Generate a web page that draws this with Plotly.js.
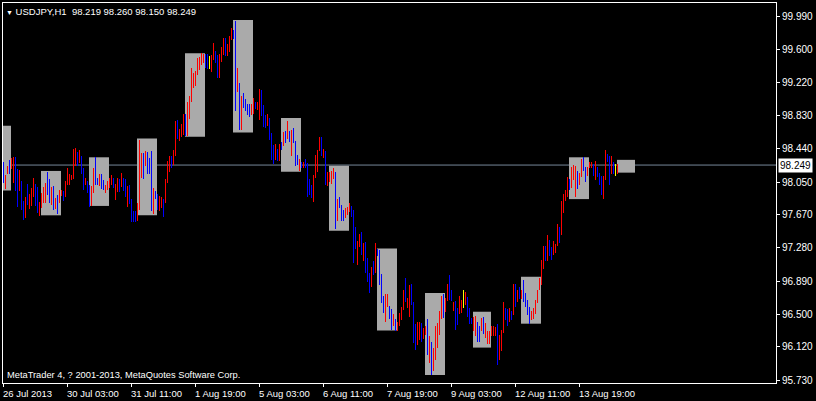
<!DOCTYPE html>
<html><head><meta charset="utf-8">
<script src="https://cdn.plot.ly/plotly-3.0.1.min.js"></script>
<style>html,body{margin:0;padding:0;background:#000;}#chart{width:816px;height:401px;}</style>
</head><body><div id="chart"></div>
<script>
// Hourly bars USDJPY H1 (index 0 = 26 Jul 2013 19:00)
const highs = [
98.28,98.13,98.24,98.31,98.33,98.34,98.34,98.20,98.19,98.06,
97.83,97.88,98.03,97.91,97.98,98.10,98.03,97.99,97.82,97.92,
97.99,98.04,98.17,98.09,97.99,98.00,97.86,97.90,97.96,97.96,
97.94,98.06,98.21,98.15,98.13,98.44,98.45,98.40,98.42,98.36,
98.22,98.10,98.06,98.02,98.00,98.21,98.34,98.10,98.15,98.14,
98.07,98.02,98.06,98.10,98.13,98.10,98.03,98.10,98.08,98.16,
98.10,98.09,98.00,98.02,97.85,97.71,97.71,97.81,98.54,98.39,
98.39,98.41,98.40,98.33,98.41,97.98,97.95,97.91,97.89,97.87,
97.85,98.08,98.30,98.35,98.35,98.42,98.77,98.78,98.67,98.73,
98.85,98.85,98.99,99.06,99.39,99.33,99.35,99.50,99.51,99.56,
99.55,99.55,99.55,99.53,99.54,99.68,99.58,99.54,99.55,99.63,
99.74,99.74,99.67,99.76,99.85,99.83,99.94,99.39,99.21,99.06,
99.09,99.02,98.97,98.96,98.97,99.03,98.99,98.99,99.14,99.13,
98.95,98.84,98.85,98.80,98.63,98.48,98.50,98.44,98.50,98.52,
98.64,98.65,98.77,98.65,98.66,98.68,98.53,98.37,98.32,98.29,
98.29,98.32,98.27,98.09,98.02,98.13,98.37,98.43,98.58,98.58,
98.44,98.41,98.17,98.17,98.18,98.22,98.17,97.85,97.87,97.78,
97.72,97.74,97.76,97.80,97.77,97.72,97.52,97.36,97.44,97.47,
97.34,97.35,97.16,96.98,97.06,97.13,97.33,97.27,97.25,96.97,
96.71,96.74,96.74,96.60,96.56,96.50,96.44,96.41,96.52,96.58,
96.79,96.92,96.69,96.84,96.86,96.64,96.39,96.41,96.41,96.40,
96.34,96.36,96.44,96.25,96.17,96.10,96.36,96.40,96.54,96.71,
96.74,96.69,96.86,96.96,96.78,96.65,96.66,96.57,96.71,96.67,
96.79,96.76,96.70,96.57,96.46,96.47,96.48,96.41,96.36,96.46,
96.47,96.40,96.30,96.30,96.36,96.36,96.35,96.39,96.26,96.32,
96.64,96.57,96.56,96.57,96.54,96.86,96.86,96.78,96.82,96.78,
96.90,96.75,96.67,96.58,96.54,96.57,96.67,96.79,96.93,97.14,
97.30,97.30,97.43,97.37,97.29,97.36,97.32,97.56,97.52,97.83,
97.91,97.96,98.11,98.08,98.23,98.25,98.24,98.18,98.16,98.32,
98.34,98.23,98.23,98.28,98.29,98.26,98.30,98.23,98.16,98.12,
98.12,98.42,98.38,98.36,98.36,98.28,98.26,98.26
];
const lows = [
98.04,97.97,98.14,98.15,98.20,98.04,97.95,97.76,97.95,97.72,
97.61,97.63,97.78,97.73,97.77,97.88,97.77,97.69,97.65,97.75,
97.81,97.81,97.90,97.80,97.78,97.72,97.73,97.67,97.81,97.89,
97.83,97.87,98.01,98.01,98.07,98.08,98.24,98.24,98.27,98.15,
97.96,98.02,97.92,97.76,97.77,97.92,98.01,98.01,98.00,97.97,
97.96,97.92,97.96,97.98,98.01,97.98,97.84,97.93,97.93,97.99,
97.94,97.88,97.76,97.79,97.58,97.58,97.58,97.59,97.72,98.10,
98.09,98.24,98.15,98.14,97.71,97.67,97.85,97.72,97.71,97.74,
97.64,97.80,98.04,98.17,98.22,98.25,98.36,98.56,98.53,98.58,
98.60,98.59,98.59,98.79,98.99,99.15,99.18,99.31,99.36,99.42,
99.45,99.39,99.38,99.38,99.34,99.48,99.44,99.27,99.27,99.46,
99.54,99.53,99.53,99.57,99.72,99.73,98.88,99.11,98.66,98.66,
98.92,98.88,98.84,98.81,98.83,98.85,98.91,98.90,98.78,98.82,
98.70,98.68,98.71,98.54,98.31,98.26,98.31,98.30,98.30,98.42,
98.47,98.51,98.56,98.52,98.35,98.51,98.24,98.25,98.18,98.22,
98.22,98.22,97.88,97.90,97.86,97.82,98.10,98.17,98.41,98.35,
98.33,98.01,98.00,98.05,98.03,98.08,97.50,97.59,97.74,97.59,
97.59,97.63,97.66,97.70,97.64,97.10,97.27,97.08,97.29,97.20,
97.13,96.98,96.88,96.75,96.82,96.96,96.98,97.18,96.84,96.63,
96.51,96.41,96.58,96.45,96.32,96.36,96.31,96.31,96.36,96.43,
96.55,96.65,96.57,96.47,96.61,96.16,96.08,96.14,96.20,96.18,
96.21,96.26,96.02,95.93,95.79,95.83,95.97,96.10,96.26,96.45,
96.46,96.53,96.66,96.67,96.66,96.54,96.32,96.37,96.50,96.51,
96.57,96.61,96.47,96.39,96.39,96.30,96.24,96.18,96.17,96.31,
96.27,96.22,96.15,96.15,96.24,96.24,96.24,95.91,95.96,96.07,
96.28,96.43,96.36,96.41,96.43,96.49,96.59,96.64,96.68,96.68,
96.65,96.59,96.49,96.39,96.43,96.45,96.50,96.63,96.78,96.84,
97.03,97.13,97.13,97.18,97.14,97.20,97.22,97.30,97.33,97.43,
97.69,97.83,97.87,97.96,97.98,98.07,97.88,97.97,98.02,98.11,
98.18,98.05,98.12,98.22,98.21,98.12,98.07,98.11,98.02,97.90,
97.85,98.07,98.29,98.02,98.15,98.15,98.12,98.15
];
// U = bullish, D = bearish, N = unchanged
const dirs = "DUUDUUDDUD"+"DUDUUUDDUU"+"UUDDUDUDUU"+"DUUUUUUDUD"+"DUDDUUDDUD"+
             "DUUUUDUUDU"+"DDUDDDDUUU"+"DUDDDUDDUU"+"DUUUDUUDUU"+"UDUUUUUUUU"+
             "UDDNUUDDUU"+"UDUUUDDUDU"+"DDDDUUDUUD"+"DDUDDDUDUD"+"UDUDUDDDUD"+
             "UDDDDUUUUD"+"UDUUUUDUDD"+"DUUUDDDUUD"+"UDDDUDUDDD"+"DUUDDUDUUU"+
             "UDUUDDDUUD"+"UUDUDUUUUU"+"DUUDDUDDUU"+"NUDDDUUDDU"+"DUUUUUUDUU"+
             "UDDUDUDUDU"+"DDDDUUUUUU"+"UDUDDUUUDU"+"UUUDUUUDUU"+"DDUUUDUDDD"+
             "UUDDUDNU";
// session range boxes (bar index start/end, high, low)
const boxStart = [-6, 19, 43, 67, 91, 115, 139, 163, 187, 211, 235, 259, 283, 307];
const boxEnd   = [ 4, 29, 53, 77, 101, 125, 149, 173, 197, 221, 244, 269, 293, 316];
const boxHigh  = [98.71, 98.18, 98.34, 98.56, 99.56, 99.95, 98.80, 98.24, 97.27, 96.75, 96.53, 96.94, 98.34, 98.31];
const boxLow   = [97.95, 97.66, 97.77, 97.66, 98.58, 98.63, 98.17, 97.48, 96.31, 95.79, 96.11, 96.39, 97.85, 98.16];
// axis labels
const tickIdx  = [0, 32, 64, 96, 128, 160, 192, 224, 256, 288];
const tickText = ["26 Jul 2013","30 Jul 03:00","31 Jul 11:00","1 Aug 19:00","5 Aug 03:00",
                  "6 Aug 11:00","7 Aug 19:00","9 Aug 03:00","12 Aug 11:00","13 Aug 19:00"];
const priceTicks = [99.99, 99.60, 99.22, 98.83, 98.44, 98.05, 97.67, 97.28, 96.89, 96.50, 96.12, 95.73];
const symbol = "USDJPY,H1";
const lastOHLC = [98.219, 98.260, 98.150, 98.249];
const bid = 98.249;
const copyright = "MetaTrader 4, ? 2001-2013, MetaQuotes Software Corp.";

const colorMap = {U:'#ff0000', D:'#0000ff', N:'#ffff00'};
const xs = highs.map((_, i) => i);
const barTrace = {
  type: 'bar', x: xs, base: lows, y: highs.map((h, i) => h - lows[i]),
  width: 0.5,
  marker: {color: dirs.split('').map(c => colorMap[c]), line: {width: 0}},
  hoverinfo: 'skip', showlegend: false
};

const shapes = boxStart.map((s, i) => ({
  type: 'rect', xref: 'x', yref: 'y', layer: 'below',
  x0: s - 0.25, x1: boxEnd[i] - 0.25, y0: boxLow[i], y1: boxHigh[i],
  fillcolor: '#aaaaaa', line: {width: 0}
}));
shapes.push({type: 'line', xref: 'paper', yref: 'y', layer: 'below',
  x0: 0, x1: 1, y0: bid, y1: bid, line: {color: '#778899', width: 1}});

const font = 'Liberation Sans, Arial, sans-serif';
const annotations = tickIdx.map((k, i) => ({
  x: k, xref: 'x', y: 0, yref: 'paper', yanchor: 'top', xanchor: 'left',
  xshift: -3, yshift: -3, text: tickText[i], showarrow: false,
  font: {family: font, size: 9.5, color: '#ffffff'}
}));
annotations.push({
  x: 0, xref: 'paper', y: 1, yref: 'paper', xanchor: 'left', yanchor: 'top',
  xshift: 1, yshift: -1, showarrow: false,
  text: '<span style="font-size:7px">▼</span> ' + symbol + '\u00a0\u00a0' + lastOHLC.map(v => v.toFixed(3)).join(' '),
  font: {family: font, size: 9.5, color: '#ffffff'}
});
annotations.push({
  x: 0, xref: 'paper', y: 0, yref: 'paper', xanchor: 'left', yanchor: 'bottom',
  xshift: 2, yshift: 1, showarrow: false, text: copyright,
  font: {family: font, size: 9.3, color: '#ffffff'}
});
annotations.push({
  x: 1, xref: 'paper', y: bid, yref: 'y', xanchor: 'left', yanchor: 'middle',
  xshift: 2, showarrow: false, text: bid.toFixed(3), bgcolor: '#ffffff', borderpad: 1,
  font: {family: font, size: 10, color: '#000000'}
});

const layout = {
  width: 816, height: 401,
  margin: {l: 3, r: 40, t: 3, b: 18, pad: 0},
  paper_bgcolor: '#000000', plot_bgcolor: '#000000',
  font: {family: font, size: 10, color: '#ffffff'},
  showlegend: false, bargap: 0,
  xaxis: {range: [-0.25, 386.25], showgrid: false, zeroline: false,
    showline: true, mirror: true, linecolor: '#ffffff', linewidth: 1,
    tickmode: 'array', tickvals: tickIdx, showticklabels: false,
    ticks: 'outside', ticklen: 3, tickcolor: '#ffffff', fixedrange: true},
  yaxis: {range: [95.695, 100.148], side: 'right', showgrid: false, zeroline: false,
    showline: true, mirror: true, linecolor: '#ffffff', linewidth: 1,
    tickmode: 'array', tickvals: priceTicks, tickformat: '.3f',
    ticks: 'outside', ticklen: 3, tickcolor: '#ffffff',
    tickfont: {family: font, size: 10, color: '#ffffff'}, fixedrange: true},
  shapes: shapes, annotations: annotations
};
Plotly.newPlot('chart', [barTrace], layout, {staticPlot: true, displayModeBar: false});
</script></body></html>
